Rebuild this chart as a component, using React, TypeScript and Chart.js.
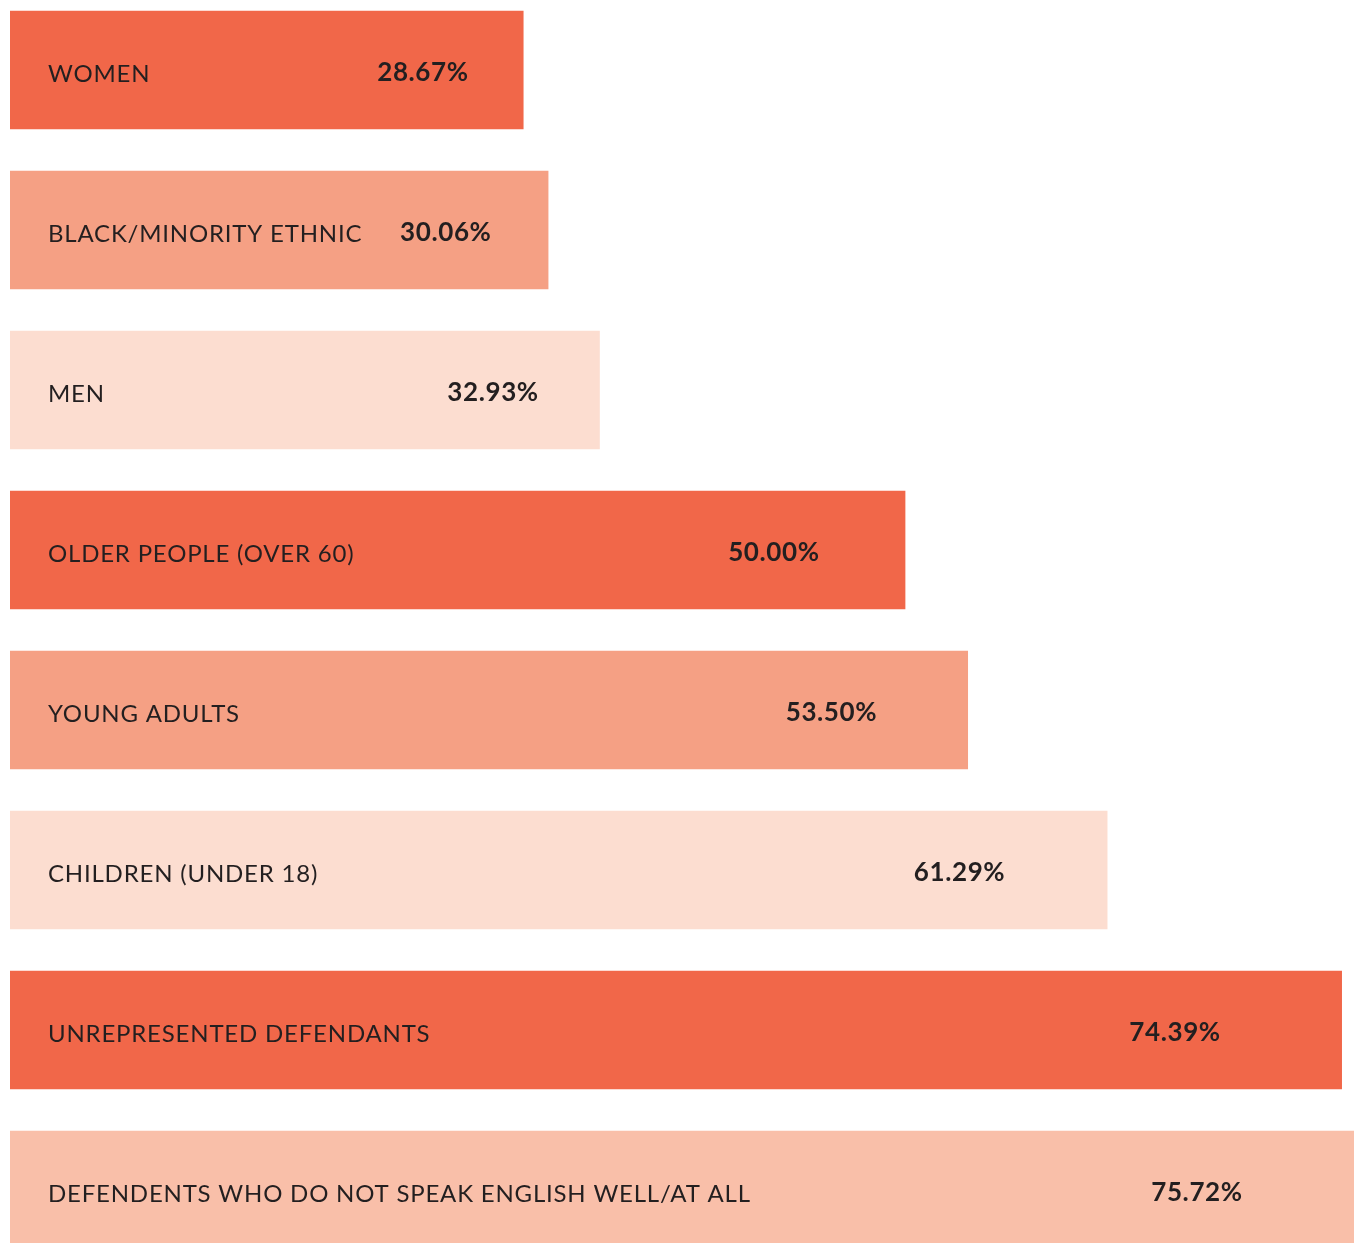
import React, { useEffect, useRef } from "react";
import { Chart, registerables } from "chart.js";

Chart.register(...registerables);

const categories = [
  "WOMEN",
  "BLACK/MINORITY ETHNIC",
  "MEN",
  "OLDER PEOPLE (OVER 60)",
  "YOUNG ADULTS",
  "CHILDREN (UNDER 18)",
  "UNREPRESENTED DEFENDANTS",
  "DEFENDENTS WHO DO NOT SPEAK ENGLISH WELL/AT ALL",
];
const values = [28.67, 30.06, 32.93, 50.0, 53.5, 61.29, 74.39, 75.72];
const valueLabels = ["28.67%", "30.06%", "32.93%", "50.00%", "53.50%", "61.29%", "74.39%", "75.72%"];
const barColors = [
  "#F16749",
  "#F5A084",
  "#FCDDD0",
  "#F16749",
  "#F5A084",
  "#FCDDD0",
  "#F16749",
  "#F9BFA9",
];

const labelPlugin = {
  id: "inBarLabels",
  afterDatasetsDraw(chart: any) {
    const { ctx, scales } = chart;
    const meta = chart.getDatasetMeta(0);
    const xs = scales.x;
    ctx.save();
    ctx.fillStyle = "#231F20";
    ctx.textBaseline = "middle";
    meta.data.forEach((bar: any, i: number) => {
      const y = bar.y + 4;
      ctx.font = "400 24px Lato";
      (ctx as any).letterSpacing = "0.8px";
      ctx.textAlign = "left";
      ctx.fillText(categories[i], xs.left + 38, y);
      ctx.font = "700 26px Lato";
      (ctx as any).letterSpacing = "0.6px";
      ctx.textAlign = "center";
      const cx = xs.getPixelForValue(values[i] * 0.919 - 3.28);
      ctx.fillText(valueLabels[i], cx, y - 1);
    });
    ctx.restore();
  },
};

export default function App() {
  const ref = useRef<HTMLCanvasElement>(null);
  useEffect(() => {
    if (!ref.current) return;
    const chart = new Chart(ref.current, {
      type: "bar",
      data: {
        labels: categories,
        datasets: [
          {
            data: values,
            backgroundColor: barColors,
            borderWidth: 0,
            barThickness: 118,
          },
        ],
      },
      options: {
        indexAxis: "y",
        responsive: false,
        animation: false,
        layout: { padding: { left: 10, right: 0, top: 0, bottom: 0 } },
        plugins: { legend: { display: false }, tooltip: { enabled: false } },
        scales: {
          x: { display: false, min: 0, max: 75.08 },
          y: { display: false },
        },
      },
      plugins: [labelPlugin],
    });
    return () => chart.destroy();
  }, []);
  return (
    <div
      style={{
        position: "absolute",
        left: 0,
        top: 0,
        width: 1354,
        height: 1243,
        overflow: "hidden",
        background: "#fff",
      }}
    >
      <canvas
        ref={ref}
        width={1354}
        height={1280}
        style={{ position: "absolute", left: 0, top: -10, width: 1354, height: 1280 }}
      />
    </div>
  );
}
